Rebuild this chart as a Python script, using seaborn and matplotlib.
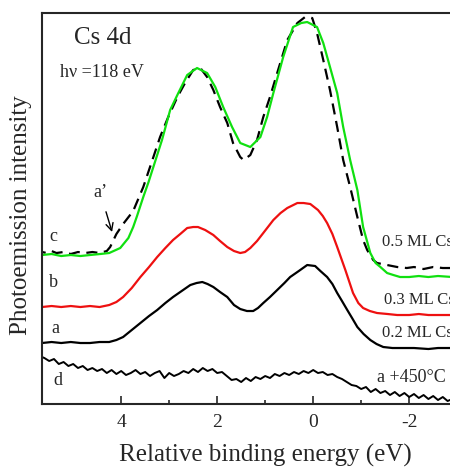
import numpy as np
import pandas as pd
import matplotlib
matplotlib.use("Agg")
import matplotlib.pyplot as plt
import seaborn as sns

# curve c (0.5 ML Cs, green)
c_E = [5.65, 5.45, 5.25, 5.05, 4.85, 4.65, 4.44, 4.25, 4.02, 3.85, 3.75, 3.67, 3.54, 3.43,
       3.33, 3.15, 2.98, 2.81, 2.625, 2.42, 2.21, 2.04, 1.875, 1.69, 1.52, 1.31, 1.10, 0.96,
       0.83, 0.625, 0.42, 0.25, 0.125, -0.08, -0.21, -0.35, -0.5, -0.625, -0.77, -0.92,
       -1.04, -1.19, -1.30, -1.40, -1.54, -1.67, -1.81, -2.0, -2.2, -2.4, -2.6, -2.9]
c_I = [149, 150, 148, 149, 148, 149, 150, 151, 156, 166, 177, 188, 207, 222,
       237, 264, 294, 311, 329, 336, 331, 317, 297, 277, 261, 257, 267, 287,
       311, 347, 377, 381, 382, 377, 361, 337, 311, 277, 244, 214,
       177, 151, 141, 137, 131, 129, 127, 127, 128, 127, 128, 127]

# curve a' (dashed black)
ap_E = [5.65, 5.55, 5.45, 5.35, 5.2, 5.05, 4.9, 4.75, 4.6, 4.45, 4.3, 4.23, 4.10, 3.96,
        3.75, 3.54, 3.35, 3.19, 3.02, 2.83, 2.67, 2.5, 2.35, 2.21, 2.08, 1.94, 1.79, 1.67,
        1.52, 1.45, 1.31, 1.17, 1.04, 0.9, 0.75, 0.54, 0.33, 0.17, 0.02, -0.08, -0.21,
        -0.35, -0.5, -0.625, -0.77, -0.92, -1.04, -1.125, -1.25, -1.33, -1.54, -1.75,
        -1.95, -2.1, -2.3, -2.5, -2.7, -2.9]
ap_I = [152, 151, 153, 151, 152, 150, 152, 151, 152, 151, 153, 157, 170, 180,
        193, 217, 244, 267, 287, 307, 321, 334, 336, 327, 314, 297, 281, 261,
        247, 244, 249, 264, 287, 307, 331, 364, 381, 387, 386, 371, 344,
        314, 277, 244, 217, 187, 164, 154, 144, 141, 139, 137,
        136, 137, 135, 137, 136, 136]

# curve b (0.3 ML Cs, red)
b_E = [5.65, 5.45, 5.25, 5.05, 4.85, 4.65, 4.45, 4.25, 4.10, 3.96, 3.78, 3.6, 3.42, 3.25,
       3.08, 2.92, 2.77, 2.625, 2.5, 2.4, 2.25, 2.08, 1.94, 1.79, 1.65, 1.52, 1.42, 1.31,
       1.17, 1.04, 0.83, 0.68, 0.54, 0.33, 0.2, 0.06, -0.1, -0.2, -0.29, -0.4, -0.5, -0.67,
       -0.83, -0.94, -1.04, -1.18, -1.33, -1.55, -1.75, -2.0, -2.2, -2.4, -2.6, -2.9]
b_I = [97, 98, 97, 98, 97, 98, 97, 99, 102, 107, 116, 127, 137, 147,
       156, 164, 170, 176, 177, 177, 174, 169, 163, 157, 153, 151, 152, 156,
       163, 171, 184, 191, 196, 201, 201, 200, 194, 188, 181, 170, 157, 134,
       111, 101, 96, 93, 91, 90, 89, 89, 90, 89, 89, 89]

# curve a (0.2 ML Cs, black)
a_E = [5.65, 5.45, 5.25, 5.05, 4.85, 4.65, 4.45, 4.25, 4.10, 3.96, 3.78, 3.6, 3.42, 3.25,
       3.08, 2.92, 2.74, 2.56, 2.43, 2.31, 2.2, 2.08, 1.94, 1.79, 1.65, 1.52, 1.38, 1.25,
       1.15, 1.04, 0.9, 0.75, 0.6, 0.48, 0.3, 0.125, -0.04, -0.15, -0.29, -0.4, -0.5, -0.6,
       -0.71, -0.81, -0.92, -1.05, -1.19, -1.32, -1.46, -1.65, -1.875, -2.1, -2.4, -2.6, -2.9]
a_I = [61, 62, 61, 62, 61, 61, 62, 62, 64, 67, 74, 81, 88, 94,
       101, 107, 113, 119, 121, 122, 120, 117, 112, 107, 99, 95, 93, 93,
       96, 101, 107, 114, 121, 127, 133, 139, 138, 133, 127, 120, 111, 103,
       94, 86, 77, 70, 64, 60, 57, 56, 56, 56, 55, 56, 56]

# curve d (a + 450 C, noisy black)
d_E = [5.65, 5.6, 5.5, 5.4, 5.3, 5.2, 5.1, 5.0, 4.9, 4.8, 4.7, 4.6, 4.5, 4.4, 4.3, 4.2, 4.1,
       4.0, 3.9, 3.8, 3.7, 3.6, 3.5, 3.4, 3.3, 3.2, 3.1, 3.0, 2.9, 2.8, 2.7, 2.6, 2.5,
       2.4, 2.3, 2.2, 2.1, 2.0, 1.9, 1.8, 1.7, 1.6, 1.5, 1.4, 1.3, 1.2, 1.1, 1.0, 0.9,
       0.8, 0.7, 0.6, 0.5, 0.4, 0.3, 0.2, 0.1, 0.0, -0.1, -0.2, -0.3, -0.4, -0.5, -0.6,
       -0.7, -0.8, -0.9, -1.0, -1.1, -1.2, -1.3, -1.4, -1.5, -1.6, -1.7, -1.8, -1.9, -2.0,
       -2.1, -2.2, -2.3, -2.4, -2.5, -2.6, -2.7, -2.8, -2.9]
d_I = [47, 46, 43, 45, 40, 42, 38, 40, 36, 38, 34, 36, 33, 35, 31, 34, 30,
       33, 29, 31, 34, 30, 32, 28, 31, 33, 26, 31, 28, 30, 33, 31, 35,
       32, 36, 33, 35, 31, 32, 28, 24, 25, 22, 26, 23, 27, 25, 28, 26,
       30, 28, 31, 29, 32, 30, 33, 31, 34, 31, 32, 29, 30, 27, 25,
       22, 19, 18, 15, 17, 12, 15, 11, 13, 9, 12, 8, 11, 7,
       10, 6, 9, 5, 8, 4, 7, 3, 5]

xticks = [4, 2, 0, -2]

sns.set_style("ticks")
plt.rcParams['font.family'] = ['Liberation Serif', 'DejaVu Serif']

fig = plt.figure(figsize=(4.5, 4.7), dpi=100)
ax = fig.add_axes([0.0933, 0.1404, 0.9067, 0.8319])

green = '#10e010'
red = '#ee1010'
sns.lineplot(x=a_E, y=a_I, ax=ax, color='black', lw=1.6)
sns.lineplot(x=d_E, y=d_I, ax=ax, color='black', lw=1.4)
sns.lineplot(x=b_E, y=b_I, ax=ax, color=red, lw=1.6)
sns.lineplot(x=ap_E, y=ap_I, ax=ax, color='black', lw=1.6)
ax.lines[-1].set_dashes([5, 3])
sns.lineplot(x=c_E, y=c_I, ax=ax, color=green, lw=1.6)

ax.set_xlim(5.65, -2.85)
ax.set_ylim(0, 391)
ax.set_xticks(xticks)
ax.set_xticklabels(['4', '2', '0', '-2'])
ax.set_xticks([3, 1, -1], minor=True)
ax.set_yticks([])
ax.tick_params(axis='x', which='major', direction='in', length=6, width=1.2,
               labelsize=14, pad=7)
ax.tick_params(axis='x', which='minor', direction='in', length=3, width=1.2)
ax.spines['right'].set_visible(False)
for s in ['left', 'top', 'bottom']:
    ax.spines[s].set_linewidth(1.5)
ax.set_xlabel('')
ax.set_ylabel('')

ax.text(4.375, 366, 'Cs 4d', fontsize=18, ha='center', va='center')
ax.text(5.27, 332, 'h\u03bd =118 eV', fontsize=13, ha='left', va='center')
ax.annotate('a\u2019', xy=(4.19, 172), xytext=(4.44, 212), fontsize=13,
            ha='center', va='center',
            arrowprops=dict(arrowstyle='->', color='black', lw=1.0, shrinkA=6, shrinkB=0))
ax.text(5.42, 168, 'c', fontsize=13, ha='center', va='center')
ax.text(5.42, 122, 'b', fontsize=13, ha='center', va='center')
ax.text(5.375, 76, 'a', fontsize=13, ha='center', va='center')
ax.text(5.31, 24, 'd', fontsize=13, ha='center', va='center')
ax.text(-1.44, 162, '0.5 ML Cs', fontsize=12, ha='left', va='center')
ax.text(-1.48, 104, '0.3 ML Cs', fontsize=12, ha='left', va='center')
ax.text(-1.44, 71, '0.2 ML Cs', fontsize=12, ha='left', va='center')
ax.text(-1.33, 27, 'a +450\u00b0C', fontsize=13, ha='left', va='center')

fig.text(21 / 450, 1 - 215 / 470, 'Photoemission intensity', fontsize=18,
         rotation=90, ha='center', va='center')
fig.text(265 / 450, 1 - 455 / 470, 'Relative binding energy (eV)', fontsize=18,
         ha='center', va='center')

fig.savefig('out.png', dpi=100)
